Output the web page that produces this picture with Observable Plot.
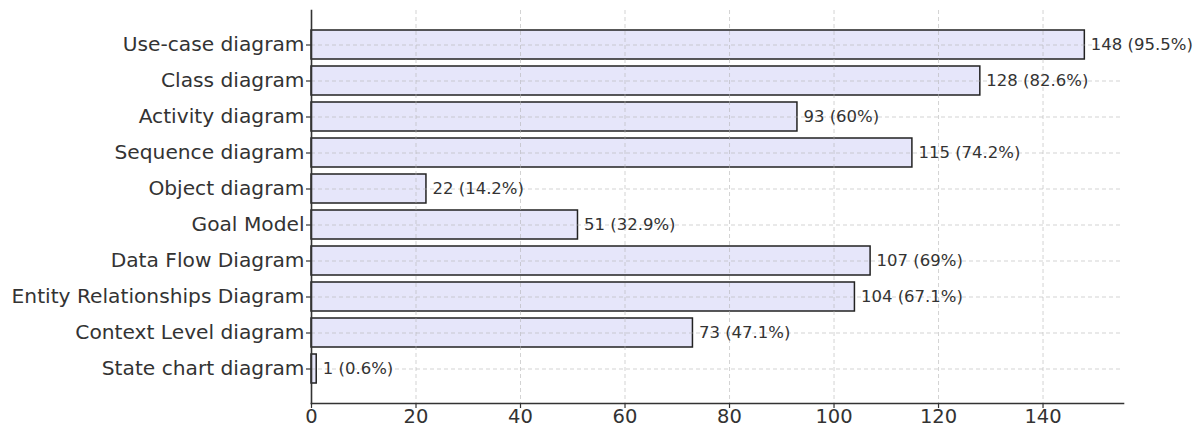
<!DOCTYPE html>
<html>
<head>
<meta charset="utf-8">
<script src="https://cdn.jsdelivr.net/npm/d3@7"></script>
<script src="https://cdn.jsdelivr.net/npm/@observablehq/plot@0.6"></script>
<style>
  html, body { margin: 0; padding: 0; background: #fff; }
  #chart svg { display: block; font-family: "DejaVu Sans", sans-serif; }
</style>
</head>
<body>
<div id="chart"></div>
<script>
// Diagram types used, with counts and share of respondents
const categories = [
  "Use-case diagram",
  "Class diagram",
  "Activity diagram",
  "Sequence diagram",
  "Object diagram",
  "Goal Model",
  "Data Flow Diagram",
  "Entity Relationships Diagram",
  "Context Level diagram",
  "State chart diagram"
];
const counts = [148, 128, 93, 115, 22, 51, 107, 104, 73, 1];
const percents = ["95.5", "82.6", "60", "74.2", "14.2", "32.9", "69", "67.1", "47.1", "0.6"];
const xTicks = [0, 20, 40, 60, 80, 100, 120, 140];

const rows = categories.map((name, i) => ({
  name,
  count: counts[i],
  label: `${counts[i]} (${percents[i]}%)`
}));

const ink = "#333";
const gridStyle = {stroke: "#b0b0b0", strokeOpacity: 0.7, strokeDasharray: "4,3", strokeWidth: 0.8};

const chart = Plot.plot({
  width: 1202,
  height: 429,
  marginLeft: 311,
  marginRight: 79,
  marginTop: 10,
  marginBottom: 26,
  style: {fontFamily: "DejaVu Sans, sans-serif", color: ink, background: "#fff"},
  x: {domain: [0, 155.4], ticks: xTicks, label: null},
  y: {domain: categories, paddingInner: 0.2, paddingOuter: 0.49, label: null},
  marks: [
    Plot.barX(rows, {x: "count", y: "name", fill: "#e6e6fa", stroke: "#222", strokeWidth: 1.5}),
    Plot.gridX(xTicks, {...gridStyle}),
    Plot.gridY(categories, {...gridStyle}),
    Plot.text(rows, {x: "count", y: "name", text: "label", textAnchor: "start", dx: 6, fontSize: 16.5, fill: ink}),
    Plot.axisX({ticks: xTicks, tickSize: 5, tickPadding: 1, fontSize: 19.5, stroke: ink, strokeWidth: 1.2, label: null}),
    Plot.axisY({tickSize: 5, tickPadding: 2, fontSize: 20.2, stroke: ink, strokeWidth: 1.2, label: null}),
    Plot.frame({anchor: "left", stroke: ink, strokeWidth: 1.6}),
    Plot.frame({anchor: "bottom", stroke: ink, strokeWidth: 1.6})
  ]
});

document.getElementById("chart").append(chart);
</script>
</body>
</html>
